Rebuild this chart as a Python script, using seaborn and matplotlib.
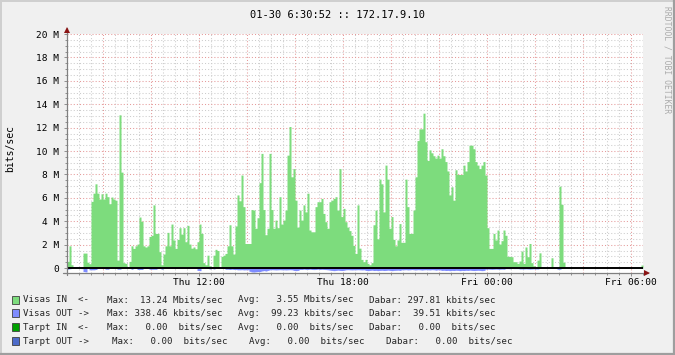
import numpy as np
import pandas as pd
import matplotlib
matplotlib.use("Agg")
import matplotlib.pyplot as plt
from matplotlib.lines import Line2D
from matplotlib.patches import Rectangle
from matplotlib.ticker import MultipleLocator
import seaborn as sns

# ---------------- data ----------------
TITLE = "01-30 6:30:52 :: 172.17.9.10"
START_HOUR = 6.5          # Thu 06:30
STEP_MIN = 5              # one sample every 5 minutes

# Visas IN (Mbit/s), 5-minute samples from Thu 06:30
visas_in = [
    0.57, 1.9, 0.28, 0.1, 0.1, 0.1, 0.1, 0.03, 1.28, 1.28, 0.5, 0.37,
    5.7, 6.4, 7.2, 6.4, 5.9, 6.35, 5.9, 6.4, 6.1, 5.5, 6.07, 5.9,
    5.8, 0.68, 13.1, 8.2, 0.46, 0.4, 0.03, 0.57, 1.9, 1.68, 1.9, 2.05,
    4.36, 4.0, 1.9, 1.8, 1.9, 2.7, 2.8, 5.4, 2.96, 2.96, 1.4, 0.28,
    1.2, 1.9, 3.05, 1.9, 3.76, 2.4, 1.68, 2.45, 3.45, 2.9, 3.45, 2.25,
    3.65, 2.05, 1.7, 1.8, 1.65, 2.25, 3.76, 2.96, 0.46, 0.28, 1.1, 0.2,
    0.03, 1.1, 1.6, 1.5, 0.03, 1.0, 1.1, 1.25, 1.9, 3.7, 1.9, 1.2,
    3.6, 6.25, 5.75, 7.95, 5.25, 2.1, 2.1, 2.1, 5.0, 4.96, 3.4, 4.3,
    7.3, 9.8, 5.0, 2.85, 3.4, 9.8, 5.0, 3.4, 4.1, 3.45, 6.1, 3.76,
    4.1, 4.96, 9.65, 12.1, 7.8, 8.5, 5.8, 3.5, 4.96, 4.1, 5.4, 4.8,
    6.4, 3.25, 3.1, 3.1, 5.25, 5.67, 5.67, 5.95, 4.67, 3.96, 3.4, 5.67,
    5.8, 5.95, 6.1, 4.96, 8.5, 4.4, 5.1, 3.96, 3.5, 3.2, 2.8, 1.94,
    1.25, 5.4, 1.7, 0.74, 0.54, 0.74, 0.4, 0.28, 0.46, 3.7, 4.96, 2.5,
    7.6, 7.2, 4.8, 8.8, 7.6, 3.4, 4.4, 2.45, 1.9, 2.4, 3.8, 2.2,
    2.2, 7.6, 5.25, 2.96, 2.96, 4.96, 7.8, 10.9, 11.9, 11.9, 13.24, 10.8,
    9.2, 10.1, 9.85, 9.6, 9.4, 9.65, 9.4, 10.2, 9.6, 9.1, 8.3, 6.25,
    6.95, 5.8, 8.4, 8.0, 8.0, 8.0, 8.8, 8.3, 9.1, 10.5, 10.5, 10.2,
    9.1, 8.8, 8.5, 8.8, 9.1, 7.95, 3.45, 1.68, 1.68, 2.96, 2.4, 3.25,
    2.05, 2.34, 3.25, 2.8, 1.0, 1.0, 0.97, 0.54, 0.54, 0.4, 0.6, 1.45,
    0.4, 1.8, 0.97, 2.1, 0.46, 0.2, 0.0, 0.68, 1.3, 0.0, 0.0, 0.0,
    0.0, 0.05, 0.88, 0.0, 0.0, 0.0, 7.0, 5.45, 0.5, 0.0, 0.0, 0.0,
    0.0, 0.0, 0.0, 0.0, 0.0, 0.0, 0.0, 0.0, 0.0, 0.0, 0.0, 0.0,
    0.0, 0.0, 0.0, 0.0, 0.0, 0.0, 0.0, 0.0, 0.0, 0.0, 0.0, 0.0,
    0.0, 0.0, 0.0, 0.0, 0.0, 0.0, 0.0, 0.0, 0.0, 0.0, 0.0, 0.26,
]

# Visas OUT (Mbit/s), drawn below the zero line
visas_out = [
    0.10, 0.06, 0.03, 0.02, 0.02, 0.02, 0.03, 0.05, 0.30, 0.33, 0.04, 0.15,
    0.15, 0.15, 0.12, 0.04, 0.03, 0.03, 0.03, 0.10, 0.10, 0.03, 0.02, 0.02,
    0.03, 0.10, 0.10, 0.03, 0.02, 0.03, 0.03, 0.03, 0.10, 0.03, 0.03, 0.12,
    0.12, 0.12, 0.03, 0.03, 0.03, 0.10, 0.10, 0.10, 0.10, 0.03, 0.03, 0.10,
    0.03, 0.02, 0.02, 0.03, 0.03, 0.03, 0.02, 0.02, 0.03, 0.03, 0.02, 0.03,
    0.02, 0.02, 0.03, 0.03, 0.03, 0.20, 0.22, 0.03, 0.02, 0.03, 0.03, 0.08,
    0.03, 0.08, 0.03, 0.02, 0.03, 0.03, 0.03, 0.10, 0.10, 0.12, 0.10, 0.12,
    0.12, 0.15, 0.15, 0.14, 0.16, 0.15, 0.15, 0.28, 0.33, 0.34, 0.32, 0.30,
    0.30, 0.25, 0.22, 0.25, 0.20, 0.15, 0.14, 0.15, 0.16, 0.15, 0.14, 0.15,
    0.15, 0.16, 0.15, 0.14, 0.15, 0.20, 0.22, 0.20, 0.12, 0.12, 0.10, 0.12,
    0.12, 0.10, 0.12, 0.13, 0.12, 0.10, 0.12, 0.11, 0.12, 0.13, 0.15, 0.18,
    0.20, 0.22, 0.20, 0.18, 0.20, 0.21, 0.19, 0.15, 0.14, 0.15, 0.16, 0.15,
    0.15, 0.14, 0.15, 0.16, 0.15, 0.20, 0.22, 0.20, 0.18, 0.21, 0.20, 0.22,
    0.20, 0.19, 0.21, 0.20, 0.18, 0.20, 0.22, 0.20, 0.19, 0.18, 0.20, 0.15,
    0.15, 0.14, 0.16, 0.15, 0.13, 0.15, 0.16, 0.14, 0.15, 0.17, 0.15, 0.14,
    0.15, 0.16, 0.14, 0.15, 0.18, 0.15, 0.16, 0.20, 0.19, 0.21, 0.20, 0.22,
    0.20, 0.21, 0.19, 0.20, 0.22, 0.20, 0.21, 0.19, 0.20, 0.18, 0.20, 0.21,
    0.20, 0.19, 0.20, 0.22, 0.20, 0.10, 0.09, 0.10, 0.11, 0.10, 0.09, 0.10,
    0.10, 0.09, 0.10, 0.05, 0.05, 0.06, 0.04, 0.05, 0.05, 0.05, 0.08, 0.08,
    0.08, 0.07, 0.08, 0.09, 0.08, 0.07, 0.08, 0.08, 0.03, 0.03, 0.03, 0.03,
    0.03, 0.03, 0.03, 0.03, 0.03, 0.10, 0.10, 0.02, 0.01, 0.00, 0.00, 0.00,
    0.00, 0.00, 0.00, 0.00, 0.00, 0.00, 0.00, 0.00, 0.00, 0.00, 0.00, 0.00,
    0.00, 0.00, 0.00, 0.00, 0.00, 0.00, 0.00, 0.00, 0.00, 0.00, 0.00, 0.00,
    0.00, 0.00, 0.00, 0.00, 0.00, 0.00, 0.00, 0.00, 0.00, 0.00, 0.00, 0.02,
]

x_tick_hours = [12, 18, 24, 30]
x_tick_labels = ["Thu 12:00", "Thu 18:00", "Fri 00:00", "Fri 06:00"]
y_ticks = [0, 2, 4, 6, 8, 10, 12, 14, 16, 18, 20]
y_tick_labels = ["0", "2 M", "4 M", "6 M", "8 M", "10 M", "12 M", "14 M", "16 M", "18 M", "20 M"]
y_label = "bits/sec"
credit = "RRDTOOL / TOBI OETIKER"

legend_names = ["Visas IN  <-", "Visas OUT ->", "Tarpt IN  <-", "Tarpt OUT ->"]
legend_max = [13.24, 338.46, 0.00, 0.00]
legend_max_unit = ["Mbits/sec", "kbits/sec", " bits/sec", " bits/sec"]
legend_avg = [3.55, 99.23, 0.00, 0.00]
legend_avg_unit = ["Mbits/sec", "kbits/sec", " bits/sec", " bits/sec"]
legend_dabar = [297.81, 39.51, 0.00, 0.00]
legend_dabar_unit = ["kbits/sec", "kbits/sec", " bits/sec", " bits/sec"]

# ---------------- style ----------------
C_IN = "#7DDC7D"
C_OUT = "#7F8CFF"
C_TIN = "#00A000"
C_TOUT = "#4D6BC9"
legend_colors = [C_IN, C_OUT, C_TIN, C_TOUT]
BACK = "#F0F0F0"
MONO = "DejaVu Sans Mono"
GRID_MAJOR = "#E59A9A"
GRID_MINOR = "#CCCCCC"

sns.set_theme(style="white")
plt.rcParams["font.family"] = [MONO, "DejaVu Sans"]

W, H = 675, 355
fig = plt.figure(figsize=(W / 100, H / 100), dpi=100, facecolor=BACK)

# plot area in pixels
PX_L, PX_R, PX_T, PX_B = 67, 643, 33.5, 272.5
ax = fig.add_axes([PX_L / W, 1 - PX_B / H, (PX_R - PX_L) / W, (PX_B - PX_T) / H])
ax.set_facecolor("white")

n = len(visas_in)
END_HOUR = START_HOUR + n * STEP_MIN / 60.0
edges = START_HOUR + np.arange(n + 1) * STEP_MIN / 60.0
centers = (edges[:-1] + edges[1:]) / 2
df = pd.DataFrame({"hour": centers, "vin": visas_in, "vout": visas_out})

sns.histplot(data=df, x="hour", weights="vin", bins=n, binrange=(START_HOUR, END_HOUR),
             element="step", fill=True, alpha=1, color=C_IN, linewidth=0, ax=ax, zorder=2)
ax.fill_between(edges, 0, -np.append(df["vout"].values, df["vout"].values[-1]),
                step="post", color=C_OUT, linewidth=0, zorder=2)

ax.set_xlim(START_HOUR, END_HOUR)
ax.set_ylim(-0.38, 20.05)
ax.set_xlabel("")
ax.set_ylabel("")

# grid (sparse dotted lines)
DOT = (0, (1, 2))
for h in np.arange(7.0, 30.51, 0.5):
    major = abs(h - round(h)) < 1e-9 and int(round(h)) % 2 == 0
    ax.axvline(h, color=GRID_MAJOR if major else GRID_MINOR, lw=0.75,
               linestyle=DOT, zorder=1)
for v in np.arange(0.5, 20.01, 0.5):
    major = abs(v / 2 - round(v / 2)) < 1e-9
    ax.axhline(v, color=GRID_MAJOR if major else GRID_MINOR, lw=0.75,
               linestyle=DOT, zorder=1)

ax.axhline(0, color="black", lw=1.4, zorder=3)

for s in ax.spines.values():
    s.set_visible(False)

# ticks
ax.set_yticks(y_ticks)
ax.set_yticklabels(y_tick_labels)
ax.yaxis.set_minor_locator(MultipleLocator(0.5))
ax.set_xticks(x_tick_hours)
ax.set_xticklabels(x_tick_labels)
ax.xaxis.set_minor_locator(MultipleLocator(0.5))
ax.tick_params(axis="both", which="both", direction="out", color="#909090",
               width=0.7, labelsize=6.8, labelcolor="black")
ax.tick_params(axis="y", which="major", length=2.2, pad=3.2, left=True)
ax.tick_params(axis="y", which="minor", length=1.5, left=True)
ax.tick_params(axis="x", which="major", length=2.2, pad=2.0, bottom=True)
ax.tick_params(axis="x", which="minor", length=1.5, bottom=True)
for lbl in ax.get_xticklabels() + ax.get_yticklabels():
    lbl.set_fontfamily(MONO)

# axis lines with arrows
axc = "#808080"
fx = lambda px: (px - PX_L) / (PX_R - PX_L)
fy = lambda py: (PX_B - py) / (PX_B - PX_T)
ax.add_line(Line2D([0, 0], [fy(275), fy(28)], transform=ax.transAxes,
                   color=axc, lw=0.9, clip_on=False, zorder=4))
ax.add_line(Line2D([fx(63), fx(648)], [0, 0], transform=ax.transAxes,
                   color=axc, lw=0.9, clip_on=False, zorder=4))
ax.plot([0], [fy(29.5)], marker="^", markersize=5, color="#8B1414",
        transform=ax.transAxes, clip_on=False, zorder=5, markeredgewidth=0)
ax.plot([fx(647)], [0], marker=">", markersize=5, color="#8B1414",
        transform=ax.transAxes, clip_on=False, zorder=5, markeredgewidth=0)

# title, axis label, credit
fig.text(0.5, 1 - 15 / H, TITLE, ha="center", va="center", fontsize=7.5,
         family=MONO, color="black")
fig.text(10 / W, 1 - 148 / H, y_label, rotation=90, ha="center", va="center",
         fontsize=7, family=MONO, color="black")
fig.text(667 / W, 1 - 60 / H, credit, rotation=270, ha="center", va="center",
         fontsize=5.8, family=MONO, color="#ABABAB")

# legend
row_y = [299.7, 313.3, 327.3, 341.0]
row_x = [(106.7, 238.3, 369.3)] * 3 + [(112.3, 249.3, 386.0)]
LEG_FS = 6.55
for i in range(4):
    yy = 1 - row_y[i] / H
    fig.add_artist(Rectangle((11.5 / W, 1 - (row_y[i] + 4) / H), 7.5 / W, 8 / H,
                             transform=fig.transFigure, facecolor=legend_colors[i],
                             edgecolor="#404040", linewidth=0.6))
    fig.text(23.3 / W, yy, legend_names[i], ha="left", va="center",
             fontsize=LEG_FS, family=MONO)
    mx, avx, dx = row_x[i]
    fig.text(mx / W, yy, "Max: %6.2f %s" % (legend_max[i], legend_max_unit[i]),
             ha="left", va="center", fontsize=LEG_FS, family=MONO)
    fig.text(avx / W, yy, "Avg: %6.2f %s" % (legend_avg[i], legend_avg_unit[i]),
             ha="left", va="center", fontsize=LEG_FS, family=MONO)
    fig.text(dx / W, yy, "Dabar: %6.2f %s" % (legend_dabar[i], legend_dabar_unit[i]),
             ha="left", va="center", fontsize=LEG_FS, family=MONO)

# 3D frame
def fl(x0, y0, x1, y1, c, lw):
    fig.add_artist(Line2D([x0 / W, x1 / W], [1 - y0 / H, 1 - y1 / H],
                          transform=fig.transFigure, color=c, lw=lw))
fl(0.5, 0, 0.5, H, "#CFCFCF", 1.4)
fl(0, 0.5, W, 0.5, "#CFCFCF", 1.4)
fl(W - 1, 0, W - 1, H, "#9E9E9E", 1.6)
fl(0, H - 1, W, H - 1, "#9E9E9E", 1.6)

fig.savefig("out.png", dpi=100, facecolor=BACK)
